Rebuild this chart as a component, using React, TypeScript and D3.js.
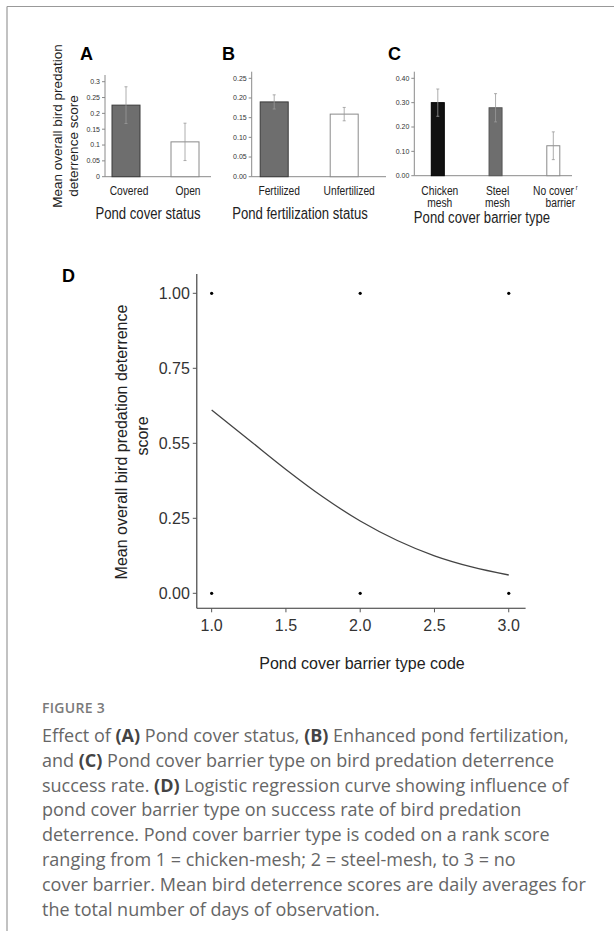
import React from 'react';
import * as d3 from 'd3';

// panel A - pond cover status
const coverCats = ['Covered', 'Open'];
const coverMeans = [0.226, 0.11];
const coverErr = [0.058, 0.059];
const coverTicks = [0, 0.05, 0.1, 0.15, 0.2, 0.25, 0.3];
const coverTickLabels = ['0', '0.05', '0.1', '0.15', '0.2', '0.25', '0.3'];

// panel B - fertilization status
const fertCats = ['Fertilized', 'Unfertilized'];
const fertMeans = [0.19, 0.159];
const fertErr = [0.018, 0.017];
const fertTicks = [0, 0.05, 0.1, 0.15, 0.2, 0.25];

// panel C - barrier type
const barrierCats = ['Chicken', 'Steel', 'No cover'];
const barrierCats2 = ['mesh', 'mesh', 'barrier'];
const barrierMeans = [0.3, 0.279, 0.123];
const barrierErr = [0.056, 0.058, 0.057];
const barrierTicks = [0, 0.1, 0.2, 0.3, 0.4];

// panel D - logistic regression
const curveX = [1, 1.25, 1.5, 1.75, 2, 2.25, 2.5, 2.75, 3];
const curveY = [0.611, 0.512, 0.413, 0.321, 0.241, 0.176, 0.125, 0.088, 0.061];
const obsX = [1, 2, 3, 1, 2, 3];
const obsY = [1, 1, 1, 0, 0, 0];
const dYTicks = [0, 0.25, 0.5, 0.75, 1];
const dYTickLabels = ['0.00', '0.25', '0.55', '0.75', '1.00'];
const dXTicks = [1, 1.5, 2, 2.5, 3];

const captionLines = [
  [['Effect of ', false], ['(A)', true], [' Pond cover status, ', false], ['(B)', true], [' Enhanced pond fertilization,', false]],
  [['and ', false], ['(C)', true], [' Pond cover barrier type on bird predation deterrence', false]],
  [['success rate. ', false], ['(D)', true], [' Logistic regression curve showing influence of', false]],
  [['pond cover barrier type on success rate of bird predation', false]],
  [['deterrence. Pond cover barrier type is coded on a rank score', false]],
  [['ranging from 1 = chicken-mesh; 2 = steel-mesh, to 3 = no', false]],
  [['cover barrier. Mean bird deterrence scores are daily averages for', false]],
  [['the total number of days of observation.', false]],
];

const chartFont = '"Liberation Sans", Arial, sans-serif';
const capFont = '"Open Sans", Lato, sans-serif';

// narrow-looking text (the Excel panels use a condensed face)
const NarrowText = ({ x, y, size, children, anchor = 'middle' }: any) => (
  <text transform={`translate(${x},${y}) scale(0.82,1)`} fontSize={size} textAnchor={anchor} fill="#222">
    {children}
  </text>
);

type BarPanelProps = {
  cats: string[];
  cats2?: string[];
  means: number[];
  errs: number[];
  ticks: number[];
  tickLabels: string[];
  fills: string[];
  strokes: string[];
  xRange: [number, number];
  axisX: number;
  axisEnd: number;
  yTop: number;
  yRange: [number, number];
  yMax: number;
  barW: number;
  labelShift: number;
  title: string;
  titleX: number;
  titleY: number;
  letter: string;
  letterX: number;
};

const BarPanel = (p: BarPanelProps) => {
  const x = d3.scalePoint<string>().domain(p.cats).range(p.xRange);
  const y = d3.scaleLinear().domain([0, p.yMax]).range(p.yRange);
  const base = y(0);
  return (
    <g fontFamily={chartFont}>
      <text x={p.letterX} y={60} fontSize={18} fontWeight="bold" fill="#000">{p.letter}</text>
      <line x1={p.axisX} x2={p.axisX} y1={p.yTop} y2={base} stroke="#8a8a8a" />
      <line x1={p.axisX} x2={p.axisEnd} y1={base} y2={base} stroke="#8a8a8a" />
      {p.ticks.map((t, i) => (
        <g key={t}>
          <line x1={p.axisX - 3} x2={p.axisX} y1={y(t)} y2={y(t)} stroke="#8a8a8a" />
          <text x={p.axisX - 5} y={y(t)} dy="0.33em" fontSize={7} textAnchor="end" fill="#333">{p.tickLabels[i]}</text>
        </g>
      ))}
      {p.cats.map((c, i) => {
        const cx = x(c) as number;
        return (
          <g key={c}>
            <rect x={cx - p.barW / 2} y={y(p.means[i])} width={p.barW} height={base - y(p.means[i])}
              fill={p.fills[i]} stroke={p.strokes[i]} strokeWidth={1} />
            <line x1={cx} x2={cx} y1={y(p.means[i] + p.errs[i])} y2={y(p.means[i] - p.errs[i])} stroke="#999" strokeWidth={0.8} />
            <line x1={cx - 1.5} x2={cx + 1.5} y1={y(p.means[i] + p.errs[i])} y2={y(p.means[i] + p.errs[i])} stroke="#999" strokeWidth={0.8} />
            <line x1={cx - 1.5} x2={cx + 1.5} y1={y(p.means[i] - p.errs[i])} y2={y(p.means[i] - p.errs[i])} stroke="#999" strokeWidth={0.8} />
            <NarrowText x={cx + p.labelShift} y={195} size={12.5}>
              {c}
              {c === 'No cover' && <tspan fontSize={7} dy={-5}> r</tspan>}
            </NarrowText>
            {p.cats2 && (
              <NarrowText x={cx + p.labelShift + (i === 2 ? 5 : 0)} y={207} size={12.5}>{p.cats2[i]}</NarrowText>
            )}
          </g>
        );
      })}
      <NarrowText x={p.titleX} y={p.titleY} size={16}>{p.title}</NarrowText>
    </g>
  );
};

const PanelD = () => {
  const x = d3.scaleLinear().domain([0.9, 3.1]).range([196.8, 523.6]);
  const y = d3.scaleLinear().domain([-0.05, 1.05]).range([608.3, 278.3]);
  const line = d3.line<number>()
    .x((d, i) => x(curveX[i]))
    .y((d) => y(d))
    .curve(d3.curveMonotoneX);
  const x0 = x(0.9);
  const y0 = y(-0.05);
  return (
    <g fontFamily={chartFont}>
      <text x={62} y={282} fontSize={18} fontWeight="bold" fill="#000">D</text>
      <line x1={x0} x2={x0} y1={274} y2={y0} stroke="#333" strokeWidth={1.1} />
      <line x1={x0} x2={x(3.1) + 2} y1={y0} y2={y0} stroke="#333" strokeWidth={1.1} />
      {dYTicks.map((t, i) => (
        <g key={t}>
          <line x1={x0 - 4} x2={x0} y1={y(t)} y2={y(t)} stroke="#555" />
          <text x={x0 - 7} y={y(t)} dy="0.36em" fontSize={16} textAnchor="end" fill="#333">{dYTickLabels[i]}</text>
        </g>
      ))}
      {dXTicks.map((t) => (
        <g key={t}>
          <line x1={x(t)} x2={x(t)} y1={y0} y2={y0 + 4} stroke="#555" />
          <text x={x(t)} y={y0 + 23} fontSize={16} textAnchor="middle" fill="#333">{t.toFixed(1)}</text>
        </g>
      ))}
      <path d={line(curveY) || ''} fill="none" stroke="#444" strokeWidth={1.3} />
      {obsX.map((v, i) => (
        <circle key={i} cx={x(v)} cy={y(obsY[i])} r={1.6} fill="#000" />
      ))}
      <text transform="translate(127,442) rotate(-90)" fontSize={16} textAnchor="middle" fill="#222">Mean overall bird predation deterrence</text>
      <text transform="translate(148,436) rotate(-90)" fontSize={16} textAnchor="middle" fill="#222">score</text>
      <text x={362} y={669} fontSize={16} textAnchor="middle" fill="#222">Pond cover barrier type code</text>
    </g>
  );
};

const App = () => {
  return (
    <div style={{ position: 'absolute', left: 0, top: 0 }}>
      <svg width={614} height={931} style={{ display: 'block', background: '#fff' }}>
        <line x1={7} x2={614} y1={6.5} y2={6.5} stroke="#999" strokeWidth={1.2} />
        <line x1={7} x2={7} y1={6.5} y2={931} stroke="#999" strokeWidth={1.2} />

        <g fontFamily={chartFont}>
          <text transform="translate(62,126) rotate(-90)" fontSize={13.5} textAnchor="middle" fill="#222">Mean overall bird predation</text>
          <text transform="translate(78,146) rotate(-90)" fontSize={13.5} textAnchor="middle" fill="#222">deterrence score</text>
        </g>

        <BarPanel cats={coverCats} means={coverMeans} errs={coverErr} ticks={coverTicks} tickLabels={coverTickLabels}
          fills={['#6e6e6e', '#fff']} strokes={['#3a3a3a', '#8a8a8a']}
          xRange={[126, 185]} axisX={105} axisEnd={211} yTop={75} yRange={[176.7, 81.7]} yMax={0.3}
          barW={28} labelShift={3} title="Pond cover status" titleX={148} titleY={219} letter="A" letterX={80} />

        <BarPanel cats={fertCats} means={fertMeans} errs={fertErr} ticks={fertTicks} tickLabels={fertTicks.map((d) => d.toFixed(2))}
          fills={['#6e6e6e', '#fff']} strokes={['#3a3a3a', '#8a8a8a']}
          xRange={[274.2, 344.2]} axisX={251.7} axisEnd={386} yTop={71.7} yRange={[176.7, 78.3]} yMax={0.25}
          barW={28} labelShift={5} title="Pond fertilization status" titleX={300} titleY={219} letter="B" letterX={222} />

        <BarPanel cats={barrierCats} cats2={barrierCats2} means={barrierMeans} errs={barrierErr} ticks={barrierTicks}
          tickLabels={barrierTicks.map((d) => d.toFixed(2))}
          fills={['#111', '#6e6e6e', '#fff']} strokes={['#000', '#555', '#8a8a8a']}
          xRange={[437.8, 553.3]} axisX={414.3} axisEnd={572} yTop={71.7} yRange={[175.7, 78.3]} yMax={0.4}
          barW={13} labelShift={2} title="Pond cover barrier type" titleX={482} titleY={223} letter="C" letterX={388} />

        <PanelD />

        <text x={42} y={713} fontFamily={capFont} fontSize={14} fontWeight={600} fill="#7a7a7a" letterSpacing={0.3}>FIGURE 3</text>
        {captionLines.map((segs, i) => (
          <text key={i} x={42} y={742 + i * 24.8} fontFamily={capFont} fontSize={18} fill="#666">
            {segs.map(([s, b], j) => (
              <tspan key={j} fontWeight={b ? 700 : 400} fill={b ? '#444' : '#666'}>{s as string}</tspan>
            ))}
          </text>
        ))}
      </svg>
    </div>
  );
};

export default App;
